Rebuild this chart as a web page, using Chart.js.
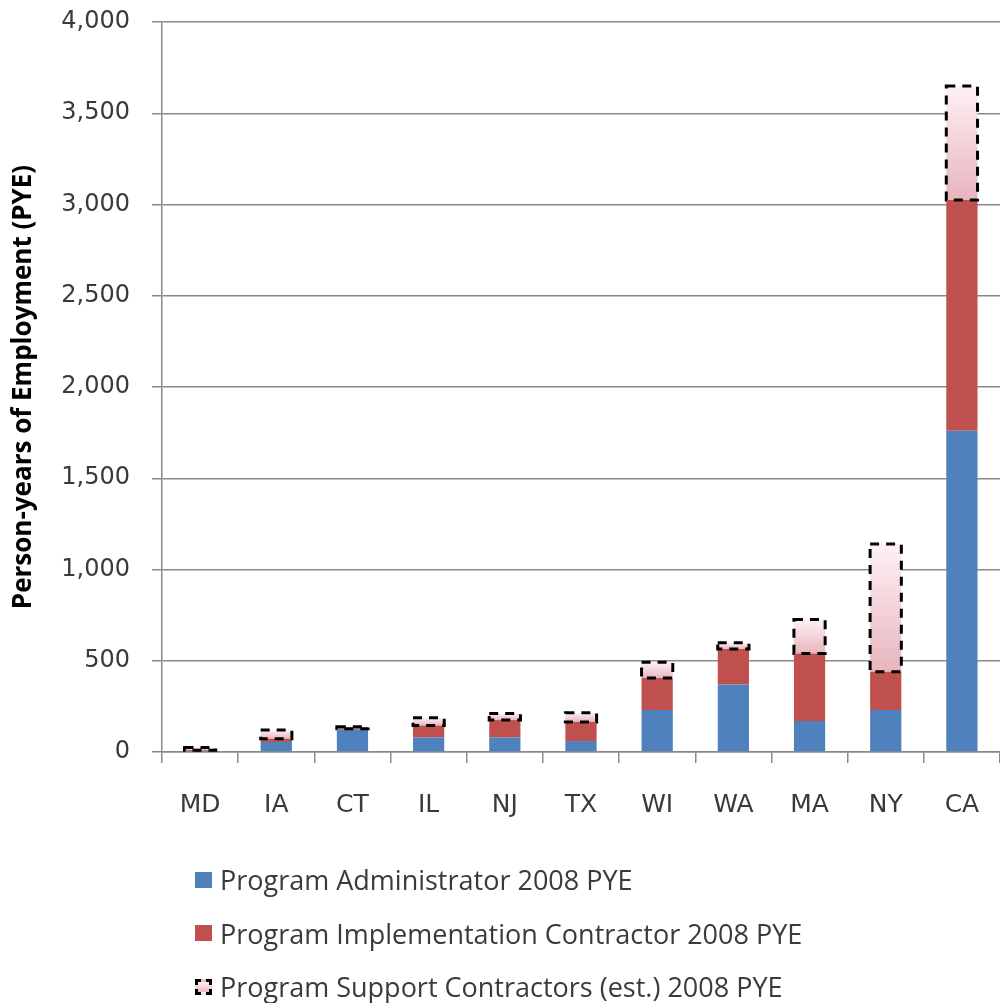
<!DOCTYPE html>
<html>
<head>
<meta charset="utf-8">
<script src="https://cdn.jsdelivr.net/npm/chart.js@4/dist/chart.umd.min.js"></script>
<style>
  html, body { margin: 0; padding: 0; background: #ffffff; overflow: hidden; }
  #wrap { position: relative; width: 1000px; height: 1003px; }
  #pye { position: absolute; left: 0; top: 0; }
  .legend { position: absolute; left: 195px; top: 853px; font-family: "Open Sans", sans-serif; font-size: 27px; color: #3a3a3a; }
  .legend .row { height: 53.5px; display: flex; align-items: center; }
  .legend .sw { width: 17px; height: 16px; margin-right: 8px; box-sizing: border-box; }
  .legend .sw.support { border: 3px dashed #000; background: linear-gradient(#fdf0f3, #e9b7c0); }
</style>
</head>
<body>
<div id="wrap">
  <canvas id="pye" width="1000" height="860"></canvas>
  <div class="legend" id="legend"></div>
</div>
<script>
// States, ordered by total program employment
const categories = ['MD', 'IA', 'CT', 'IL', 'NJ', 'TX', 'WI', 'WA', 'MA', 'NY', 'CA'];

// Person-years of employment, 2008
const adminPYE = [6, 55, 125, 80, 80, 60, 230, 370, 170, 230, 1760];
const implementationPYE = [4, 18, 5, 65, 95, 105, 175, 195, 370, 210, 1265];
const supportPYE = [14, 47, 8, 42, 36, 50, 87, 33, 186, 700, 625];

const seriesNames = [
  'Program Administrator 2008 PYE',
  'Program Implementation Contractor 2008 PYE',
  'Program Support Contractors (est.) 2008 PYE'
];

const yTicks = [0, 500, 1000, 1500, 2000, 2500, 3000, 3500, 4000];

const BLUE = '#4f81bd';
const RED = '#c0504d';
const GRID = '#8a8a8a';

// Pink vertical gradient for each estimated-support segment
function supportFill(ctx) {
  const chart = ctx.chart;
  if (!chart.chartArea || ctx.type !== 'data') return '#f3d3d9';
  const i = ctx.dataIndex;
  const y = chart.scales.y;
  const base = adminPYE[i] + implementationPYE[i];
  const yTop = y.getPixelForValue(base + supportPYE[i]);
  const yBot = y.getPixelForValue(base);
  if (!isFinite(yTop) || !isFinite(yBot) || yTop === yBot) return '#f3d3d9';
  const g = chart.ctx.createLinearGradient(0, yTop, 0, yBot);
  g.addColorStop(0, '#fdf1f4');
  g.addColorStop(1, '#e8b5be');
  return g;
}

// Dashed outline around the estimated-support segments
const dashedOutline = {
  id: 'dashedOutline',
  afterDatasetsDraw(chart) {
    const meta = chart.getDatasetMeta(2);
    const c = chart.ctx;
    c.save();
    c.strokeStyle = '#000000';
    c.lineWidth = 3;
    c.setLineDash([9, 7]);
    meta.data.forEach((bar) => {
      const p = bar.getProps(['x', 'y', 'base', 'width'], true);
      const left = p.x - p.width / 2;
      const top = Math.min(p.y, p.base);
      const h = Math.abs(p.base - p.y);
      c.strokeRect(left, top, p.width, Math.max(h, 2));
    });
    c.restore();
  }
};

function noPadding(scale) {
  scale.paddingTop = 0;
  scale.paddingBottom = 0;
  scale.paddingLeft = 0;
  scale.paddingRight = 0;
}

new Chart(document.getElementById('pye'), {
  type: 'bar',
  data: {
    labels: categories,
    datasets: [
      { label: seriesNames[0], data: adminPYE, backgroundColor: BLUE },
      { label: seriesNames[1], data: implementationPYE, backgroundColor: RED },
      { label: seriesNames[2], data: supportPYE, backgroundColor: supportFill, borderWidth: 0 }
    ]
  },
  options: {
    responsive: false,
    animation: false,
    layout: { padding: { top: 22, right: 0, left: 0, bottom: 0 } },
    datasets: { bar: { categoryPercentage: 1, barPercentage: 0.41 } },
    plugins: { legend: { display: false }, tooltip: { enabled: false } },
    scales: {
      x: {
        stacked: true,
        border: { color: GRID, width: 1.5 },
        grid: { drawOnChartArea: false, color: GRID, tickLength: 11, lineWidth: 1.5 },
        ticks: { color: '#3a3a3a', padding: 27, font: { family: '"DejaVu Sans", Verdana, sans-serif', size: 25 } },
        afterFit(scale) { noPadding(scale); scale.height = 108; }
      },
      y: {
        stacked: true,
        min: 0,
        max: 4000,
        afterBuildTicks(scale) { scale.ticks = yTicks.map(v => ({ value: v })); },
        border: { color: GRID, width: 1.5 },
        grid: { color: GRID, tickLength: 10, lineWidth: 1.5 },
        ticks: {
          color: '#3a3a3a',
          padding: 22,
          font: { family: '"DejaVu Sans", Verdana, sans-serif', size: 24 },
          callback: (v) => Number(v).toLocaleString('en-US')
        },
        title: {
          display: true,
          text: 'Person-years of Employment (PYE)',
          color: '#000000',
          padding: { top: 8, bottom: 0 },
          font: { family: '"Open Sans", sans-serif', size: 26, weight: 'bold' }
        },
        afterFit(scale) { noPadding(scale); scale.width = 162; }
      }
    }
  },
  plugins: [dashedOutline]
});

// Legend rows beneath the chart
const legendEl = document.getElementById('legend');
const swatchClass = ['', '', 'support'];
const swatchColor = [BLUE, RED, null];
seriesNames.forEach((name, i) => {
  const row = document.createElement('div');
  row.className = 'row';
  const sw = document.createElement('div');
  sw.className = 'sw ' + swatchClass[i];
  if (swatchColor[i]) sw.style.background = swatchColor[i];
  const tx = document.createElement('span');
  tx.textContent = name;
  row.appendChild(sw);
  row.appendChild(tx);
  legendEl.appendChild(row);
});
</script>
</body>
</html>
